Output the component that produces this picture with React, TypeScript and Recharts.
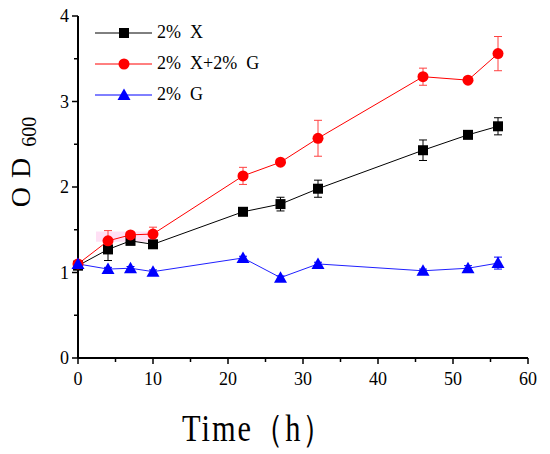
import { LineChart, Line, XAxis, YAxis, ErrorBar, ReferenceArea } from "recharts";

const times = [0, 4, 7, 10, 22, 27, 32, 46, 52, 56];

const xOnly = [1.08, 1.27, 1.37, 1.33, 1.71, 1.8, 1.98, 2.43, 2.61, 2.71];
const xOnlyErr = [0.02, 0.13, 0.04, 0.04, 0.03, 0.08, 0.1, 0.12, 0.03, 0.1];

const xPlusG = [1.1, 1.37, 1.44, 1.45, 2.13, 2.29, 2.57, 3.29, 3.25, 3.56];
const xPlusGErr = [0.02, 0.12, 0.03, 0.08, 0.1, 0.03, 0.21, 0.1, 0.03, 0.2];

const gOnly = [1.1, 1.04, 1.05, 1.01, 1.17, 0.94, 1.1, 1.02, 1.05, 1.11];
const gOnlyErr = [0.02, 0.02, 0.02, 0.02, 0.02, 0.02, 0.02, 0.02, 0.03, 0.07];

const xTicks = [0, 5, 10, 15, 20, 25, 30, 35, 40, 45, 50, 55, 60];
const yTicks = [0, 0.5, 1, 1.5, 2, 2.5, 3, 3.5, 4];

const legendItems = [
  { name: "2%\u2002X", color: "#000000", shape: "square" },
  { name: "2%\u2002X+2%\u2002G", color: "#ff0000", shape: "circle" },
  { name: "2%\u2002G", color: "#0000ff", shape: "triangle" },
];

const data = times.map((t, i) => ({
  t,
  x: xOnly[i],
  xErr: xOnlyErr[i],
  xg: xPlusG[i],
  xgErr: xPlusGErr[i],
  g: gOnly[i],
  gErr: gOnlyErr[i],
}));

const FONT = "'Liberation Serif', 'DejaVu Serif', serif";

function Marker({ shape, cx, cy, color }: { shape: string; cx: number; cy: number; color: string }) {
  if (shape === "square") return <rect x={cx - 5} y={cy - 5} width={10} height={10} fill={color} />;
  if (shape === "circle") return <circle cx={cx} cy={cy} r={5.5} fill={color} />;
  return <polygon points={`${cx},${cy - 6.5} ${cx + 6.5},${cy + 5} ${cx - 6.5},${cy + 5}`} fill={color} />;
}

const dotFor = (shape: string, color: string) => (p: any) => (
  <Marker key={`${shape}-${p.index}`} shape={shape} cx={p.cx} cy={p.cy} color={color} />
);

function XTick({ x, y, payload }: any) {
  const major = payload.value % 10 === 0;
  return (
    <g>
      <line x1={x} x2={x} y1={y} y2={y + (major ? 6 : 4)} stroke="#000" strokeWidth={1.5} />
      {major && (
        <text x={x} y={y + 27} textAnchor="middle" fontSize={18} fontFamily={FONT} fill="#000">
          {payload.value}
        </text>
      )}
    </g>
  );
}

function YTick({ x, y, payload }: any) {
  const major = payload.value % 1 === 0;
  return (
    <g>
      <line x1={x} x2={x - (major ? 6 : 4)} y1={y} y2={y} stroke="#000" strokeWidth={1.5} />
      {major && (
        <text x={x - 9} y={y + 6} textAnchor="end" fontSize={18} fontFamily={FONT} fill="#000">
          {payload.value}
        </text>
      )}
    </g>
  );
}

function LegendBox() {
  return (
    <div style={{ position: "absolute", left: 95, top: 17, fontFamily: FONT, fontSize: 18 }}>
      {legendItems.map((it) => (
        <div key={it.name} style={{ display: "flex", alignItems: "center", height: 31 }}>
          <svg width={60} height={16}>
            <line x1={0} x2={57} y1={8} y2={8} stroke={it.color} strokeWidth={1} />
            <Marker shape={it.shape} cx={29} cy={8} color={it.color} />
          </svg>
          <span style={{ whiteSpace: "pre", marginLeft: 2 }}>{it.name}</span>
        </div>
      ))}
    </div>
  );
}

function YLabel() {
  return (
    <text transform="translate(30,162) rotate(-90)" textAnchor="middle" fontFamily={FONT} fill="#000">
      <tspan fontSize={28} letterSpacing={9}>OD</tspan>
      <tspan fontSize={20} dy={6} dx={2}>600</tspan>
    </text>
  );
}

function XLabel() {
  return (
    <g transform="translate(182,441) scale(0.8,1)">
      <text
        x={0}
        y={0}
        fontSize={38}
        fontFamily={FONT}
        fill="#000"
        textLength={188}
        lengthAdjust="spacing"
      >
        Time（h）
      </text>
    </g>
  );
}

export default function App() {
  return (
    <div style={{ position: "absolute", left: 0, top: 0, width: 550, height: 454, background: "#fff" }}>
      <LineChart width={550} height={454} data={data} margin={{ top: 16, right: 22, bottom: 0, left: 0 }}>
        <XAxis
          dataKey="t"
          type="number"
          domain={[0, 60]}
          ticks={xTicks}
          interval={0}
          height={96}
          tickSize={0}
          tickMargin={0}
          tick={<XTick />}
          axisLine={{ stroke: "#000", strokeWidth: 2 }}
          label={<XLabel />}
        />
        <YAxis
          type="number"
          domain={[0, 4]}
          ticks={yTicks}
          interval={0}
          width={78}
          tickSize={0}
          tickMargin={0}
          tick={<YTick />}
          axisLine={{ stroke: "#000", strokeWidth: 2 }}
          label={<YLabel />}
        />
        <ReferenceArea x1={2.4} x2={10.3} y1={1.36} y2={1.48} fill="#ff66cc" fillOpacity={0.2} stroke="none" />
        <Line
          dataKey="x"
          stroke="#000000"
          strokeWidth={1}
          dot={dotFor("square", "#000000")}
          isAnimationActive={false}
        >
          <ErrorBar dataKey="xErr" width={4} stroke="#000" strokeWidth={1} />
        </Line>
        <Line
          dataKey="xg"
          stroke="#ff0000"
          strokeWidth={1}
          dot={dotFor("circle", "#ff0000")}
          isAnimationActive={false}
        >
          <ErrorBar dataKey="xgErr" width={4} stroke="#ff4040" strokeWidth={1} />
        </Line>
        <Line
          dataKey="g"
          stroke="#2020ff"
          strokeWidth={1}
          dot={dotFor("triangle", "#0000ff")}
          isAnimationActive={false}
        >
          <ErrorBar dataKey="gErr" width={4} stroke="#0000ff" strokeWidth={1} />
        </Line>
      </LineChart>
      <LegendBox />
    </div>
  );
}
